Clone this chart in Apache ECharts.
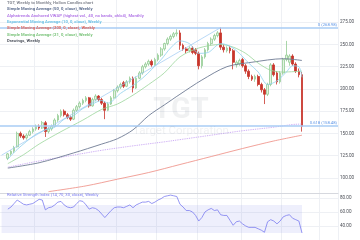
<!DOCTYPE html>
<html><head><meta charset="utf-8">
<script src="https://cdn.jsdelivr.net/npm/echarts@6/dist/echarts.min.js"></script>
<style>html,body{margin:0;padding:0;background:#fff}#c{width:360px;height:240px}</style>
</head><body><div id="c"></div>
<script>
// Weekly candles, TGT, from week of 2020-07-27 to week of 2022-05-16
const opens = [122,127,130,135,150,147,145,148,152,155,
158,156,162,152,155,158,165,170,175,171,
168,166,176,180,184,187,190,181,188,192,
188,184,176,183,190,198,202,207,203,208,
212,201,212,218,225,228,231,227,233,238,
245,251,256,259,262,263,249,245,243,246,
244,240,226,236,244,251,256,260,263,247,
243,246,243,227,228,233,226,220,214,211,
214,205,199,194,205,227,218,208,218,233,
230,237,228,220,216];
const closes = [127,130,134,150,147,145,148,152,155,158,
156,162,152,155,158,165,170,175,171,168,
166,176,180,184,187,190,181,188,192,188,
184,176,183,190,198,202,205,203,208,212,
201,212,218,225,228,231,227,233,238,245,
251,256,259,262,263,249,245,243,246,241,
240,226,236,244,251,256,260,263,247,244,
246,243,230,230,232,226,220,214,211,214,
205,199,194,205,227,216,208,218,233,238,
237,228,220,216,158];
const lows = [120,125,128,134,145,143,143,147,150,153,
154,155,146,150,153,157,163,168,169,166,
164,165,174,178,182,185,179,180,186,186,
182,166,175,182,189,196,200,201,202,206,
196,200,211,216,223,226,225,226,231,236,
243,249,254,257,259,244,243,240,241,239,
238,222,223,234,242,249,254,258,244,241,
241,240,222,224,226,224,217,211,209,208,
203,196,183,192,203,214,205,206,216,231,
226,226,218,213,152];
const highs = [128,131,136,152,152,149,150,154,157,160,
160,164,164,157,160,167,172,177,177,173,
170,178,182,186,189,192,191,190,194,193,
190,186,185,192,200,204,207,209,210,214,
214,214,220,227,230,233,233,235,240,247,
252,258,261,264,267,266,251,247,248,248,
246,242,238,246,253,258,262,265,269,250,
248,248,245,232,234,235,228,222,216,216,
216,207,201,207,229,229,220,220,235,254,
239,239,230,223,219];
const rsi = [64,67,72,77,74,71,70,71,72,75,
78,77,63,66,67,70,74,75,70,67,
66,67,72,76,75,70,64,66,65,62,
57,52,57,62,66,67,67,66,68,70,
66,70,72,74,74,75,72,74,77,79,
82,83,84,83,82,71,67,62,62,60,
55,47,52,60,63,65,62,63,56,55,
55,48,41,46,47,43,40,38,38,38,
36,34,31,46,49,47,43,47,53,55,
56,51,49,47,30];
// indicator readings: [candle index, value]
const sma50 = [[0,111],[10,117],[21,128],[30,138],[35,144],[40,154],[45,170],[50,182],[55,194],[62,210],[70,225],[78,230],[88,234],[94,232]];
const sma21 = [[0,116],[5,126],[10,138],[17,152],[24,165],[30,177],[35,183],[40,193],[45,205],[50,218],[55,236],[61,246],[68,250],[72,247],[76,240],[80,229],[84,221],[88,219],[94,220]];
const ema10 = [[0,121],[3,132],[6,141],[9,149],[12,154],[15,157],[18,166],[21,170],[24,178],[27,183],[30,187],[32,184],[36,195],[40,204],[43,212],[46,222],[49,233],[52,246],[55,254],[58,251],[61,240],[64,241],[68,251],[71,248],[74,240],[77,229],[80,219],[83,205],[86,209],[89,219],[91,226],[93,225],[94,213]];
const sma200 = [[13,84.5],[25,91],[35,98.5],[45,106],[55,115],[65,124],[75,133],[85,141.5],[94,148]];
const vwap = [[0,112],[10,119],[20,125],[30,131],[40,136],[50,140.5],[55,143],[65,148],[75,153],[85,157],[91,160],[94,160.5]];
const trend = [[-2,125.5],[68,268.98]];
const fibLevels = [[268.98,'0 (268.98)'],[158.48,'0.618 (158.48)']];
const lastClose = 158.00;

const PAD_L = 2, PAD_R = 11;
const weeks = [];
const t0 = Date.UTC(2020, 6, 13);
for (let k = 0; k < PAD_L + opens.length + PAD_R; k++) {
  weeks.push(new Date(t0 + k * 7 * 86400000).toISOString().slice(0, 10));
}
const quarterLines = new Set(['2020-09-28','2021-01-04','2021-03-29','2021-06-28','2021-09-27','2022-01-03','2022-04-04','2022-06-27']);
const cat = i => weeks[i + PAD_L];
const toLine = arr => arr.map(([i, v]) => [cat(i), v]);

const FONT = 'Roboto, "Liberation Sans", sans-serif';
const gridColor = '#eef0f4';
const vSplit = { show: true, interval: (idx, val) => quarterLines.has(val), lineStyle: { color: gridColor, width: 1 } };

const chart = echarts.init(document.getElementById('c'), null, { renderer: 'canvas' });
const rs = (c) => ({ fontSize: 4.2, lineHeight: 6.3, color: c, fontFamily: FONT });
chart.setOption({
  animation: false,
  backgroundColor: '#ffffff',
  title: [
    { left: 7, top: 0, padding: 0,
      text: '{t|TGT, Weekly to Monthly, Hollow Candles chart}\n{a|Simple Moving Average (50, 0, close), Weekly}\n{b|Alphatrends Anchored VWAP (highest vol., 40, no bands, ohlc4), Monthly}\n{c|Exponential Moving Average (10, 0, close), Weekly}\n{d|Simple Moving Average (200, 0, close), Weekly}\n{e|Simple Moving Average (21, 0, close), Weekly}\n{f|Drawings, Weekly}',
      textStyle: { rich: { t: rs('#8a8d96'), a: rs('#5f6f8f'), b: rs('#b67ee8'), c: rs('#6fc2e6'), d: rs('#e06a5f'), e: rs('#7cc47c'), f: rs('#555a64') } } },
    { left: 7, top: 193, padding: 0, text: 'Relative Strength Index (14, 70, 30, close), Weekly',
      textStyle: { fontSize: 4.2, color: '#7b7cf0', fontWeight: 'normal', fontFamily: FONT } },
    { left: 181, top: 96, padding: 0, textAlign: 'center', text: 'TGT',
      textStyle: { fontSize: 29, fontWeight: 'bold', color: 'rgba(120,123,134,0.11)', fontFamily: FONT } },
    { left: 181, top: 125, padding: 0, textAlign: 'center', text: 'Target Corporation',
      textStyle: { fontSize: 11.5, fontWeight: 'normal', color: 'rgba(120,123,134,0.11)', fontFamily: FONT } }
  ],
  grid: [
    { left: 0, right: 22, top: -5.1, height: 205.2 },
    { left: 0, right: 22, top: 193, height: 55.3 }
  ],
  xAxis: [
    { type: 'category', gridIndex: 0, data: weeks, boundaryGap: true, axisLine: { show: false }, axisTick: { show: false }, axisLabel: { show: false }, splitLine: vSplit },
    { type: 'category', gridIndex: 1, data: weeks, boundaryGap: true, position: 'top', axisLine: { show: true, lineStyle: { color: '#d6d8de', width: 1 } }, axisTick: { show: false }, axisLabel: { show: false }, splitLine: vSplit }
  ],
  yAxis: [
    { type: 'value', gridIndex: 0, position: 'right', min: 75, max: 300, interval: 25,
      axisLine: { show: false }, axisTick: { show: false },
      splitLine: { show: true, showMinLine: false, showMaxLine: false, lineStyle: { color: gridColor } },
      axisLabel: { showMinLabel: false, showMaxLabel: false, fontSize: 4.6, color: '#4a4d55', margin: 2, fontFamily: FONT, formatter: v => v.toFixed(2) } },
    { type: 'value', gridIndex: 1, position: 'right', min: 20, max: 87, interval: 20,
      axisLine: { show: false }, axisTick: { show: false },
      splitLine: { show: true, showMinLine: false, showMaxLine: false, lineStyle: { color: gridColor } },
      axisLabel: { showMinLabel: false, showMaxLabel: false, fontSize: 4.6, color: '#4a4d55', margin: 2, fontFamily: FONT, formatter: v => v.toFixed(2) } }
  ],
  series: [
    { type: 'candlestick', name: 'TGT', xAxisIndex: 0, yAxisIndex: 0, barWidth: 2.2,
      data: opens.map((o, i) => [cat(i), o, closes[i], lows[i], highs[i]]),
      encode: { x: 0, y: [1, 2, 3, 4] },
      itemStyle: { color: '#e3f2e3', color0: '#c8352b', borderColor: '#93cb93', borderColor0: '#c8352b', borderWidth: 0.8 },
      markLine: { symbol: 'none', silent: true, animation: false,
        lineStyle: { color: '#a8cdf5', width: 1.6, type: 'solid' },
        label: { position: 'insideEndTop', fontSize: 4.2, color: '#5d95e6', distance: 1, fontFamily: FONT },
        data: fibLevels.map(([v, t]) => ({ yAxis: v, label: { formatter: t } })).concat([
          { yAxis: lastClose, lineStyle: { opacity: 0 },
            label: { position: 'end', formatter: lastClose.toFixed(2), color: '#fff', backgroundColor: '#c62828', padding: [1, 1.5, 0.6, 1.5], fontSize: 4.6, distance: 0, fontFamily: FONT } }
        ]) } },
    { type: 'line', name: 'SMA 200', data: toLine(sma200), smooth: 0.3, showSymbol: false, lineStyle: { color: '#ee8a80', width: 0.8 } },
    { type: 'line', name: 'VWAP', data: toLine(vwap), smooth: 0.3, showSymbol: false, lineStyle: { color: '#c29bf2', width: 0.9, type: 'dotted' } },
    { type: 'line', name: 'SMA 50', data: toLine(sma50), smooth: 0.3, showSymbol: false, lineStyle: { color: '#6e7a93', width: 0.9 } },
    { type: 'line', name: 'SMA 21', data: toLine(sma21), smooth: 0.3, showSymbol: false, lineStyle: { color: '#9bd59b', width: 0.8 } },
    { type: 'line', name: 'EMA 10', data: toLine(ema10), smooth: 0.3, showSymbol: false, lineStyle: { color: '#8fd0ee', width: 0.8 } },
    { type: 'line', name: 'Drawings', data: trend.map(([i, v]) => [weeks[i + PAD_L], v]), showSymbol: false, lineStyle: { color: '#9cc8f2', width: 0.7 } },
    { type: 'line', name: 'RSI', xAxisIndex: 1, yAxisIndex: 1, data: rsi.map((v, i) => [cat(i), v]), showSymbol: false, lineStyle: { color: '#7b7cf0', width: 0.8 },
      markArea: { silent: true, itemStyle: { color: 'rgba(126,128,235,0.13)' },
        data: [[{ xAxis: weeks[0], yAxis: 30 }, { xAxis: cat(opens.length - 1), yAxis: 70 }]] } }
  ]
});
</script>
</body></html>
